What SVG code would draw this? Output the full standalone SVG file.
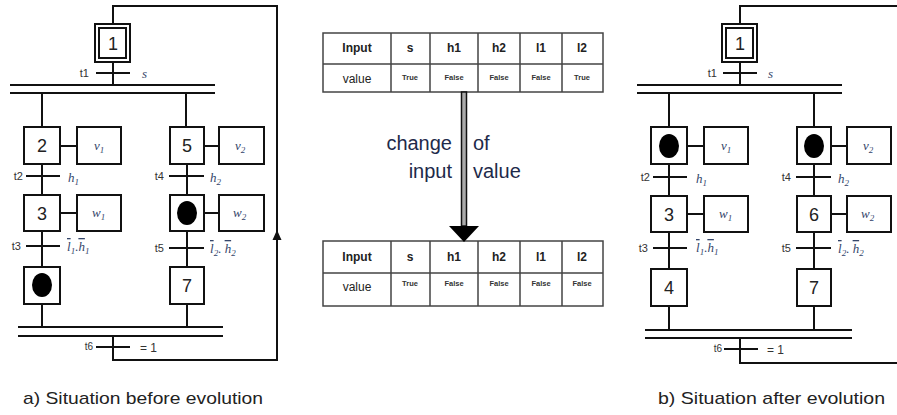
<svg xmlns="http://www.w3.org/2000/svg" width="897" height="415" viewBox="0 0 897 415">
<style>
.ln{stroke:#111;stroke-width:2;fill:none}
.box{stroke:#111;stroke-width:2;fill:#fff}
.bar{stroke:#111;stroke-width:2}
.num{font-family:"Liberation Sans",Arial,sans-serif;font-size:18px;fill:#222;text-anchor:middle}
.tl{font-family:"Liberation Sans",Arial,sans-serif;font-size:11px;fill:#333;text-anchor:end}
.m{font-family:"Liberation Serif","Times New Roman",serif;font-style:italic;font-size:13px;fill:#34456a}
.sub{font-size:9px}
.ov{text-decoration:overline}
.eq{font-family:"Liberation Sans",Arial,sans-serif;font-size:12px;fill:#333}
.tok{fill:#000}
.tb{stroke:#444;stroke-width:1.5;fill:none}
.th{font-family:"Liberation Sans",Arial,sans-serif;font-size:12px;font-weight:bold;fill:#222;text-anchor:middle}
.tv{font-family:"Liberation Sans",Arial,sans-serif;font-size:12px;fill:#222;text-anchor:middle}
.tf{font-family:"Liberation Sans",Arial,sans-serif;font-size:7.5px;font-weight:bold;fill:#333;text-anchor:middle}
.ch{font-family:"Liberation Sans",Arial,sans-serif;font-size:20px;fill:#1e2a4a}
.cap{font-family:"Liberation Sans",Arial,sans-serif;font-size:17px;fill:#222}
</style>

<!-- LEFT diagram -->
<g id="connectors-a">
<path class="ln" d="M113,24 V6 H277 V360 H113 V336"/>
<polygon points="277,230 272.5,240 281.5,240" fill="#111"/>
<path class="ln" d="M113,62 V85"/>
<path class="bar" d="M96,73 H130"/>
<path class="bar" d="M10,85 H215 M10,93 H215"/>
<path class="ln" d="M42,93 V127 M186,93 V127"/>
<path class="ln" d="M60,146 H77 M42,164 V195 M60,213 H77 M42,231 V267 M42,304 V327"/>
<path class="bar" d="M26,176 H60 M26,246 H60"/>
<path class="ln" d="M204,146 H219 M187,164 V195 M204,213 H219 M187,231 V267 M187,304 V327"/>
<path class="bar" d="M169,176 H204 M169,248 H204"/>
<path class="bar" d="M18,327 H223 M18,336 H223"/>
<path class="bar" d="M96,347 H130"/>
</g>
<g id="a-step1">
<rect x="95" y="24" width="35" height="38" class="box" stroke-width="2.5"/>
<rect x="99" y="28" width="27" height="30" class="box"/>
<text x="113" y="50" class="num">1</text>
</g>
<g id="a-t1"><text x="89" y="77" class="tl">t1</text><text x="142" y="78" class="m">s</text></g>
<g id="a-step2"><rect x="24" y="127" width="36" height="37" class="box"/><text x="42" y="152" class="num">2</text></g>
<g id="a-act-v1"><rect x="77" y="127" width="44" height="37" class="box"/><text x="94" y="150" class="m">v<tspan class="sub" dy="3">1</tspan></text></g>
<g id="a-t2"><text x="23" y="180" class="tl">t2</text><text x="68" y="182" class="m">h<tspan class="sub" dy="3">1</tspan></text></g>
<g id="a-step3"><rect x="24" y="195" width="36" height="36" class="box"/><text x="42" y="220" class="num">3</text></g>
<g id="a-act-w1"><rect x="77" y="195" width="44" height="36" class="box"/><text x="92" y="217" class="m">w<tspan class="sub" dy="3">1</tspan></text></g>
<g id="a-t3"><text x="21" y="250" class="tl">t3</text><text x="67" y="251" class="m"><tspan class="ov">l</tspan><tspan class="sub" dy="3">1</tspan><tspan dy="-3">.</tspan><tspan class="ov">h</tspan><tspan class="sub" dy="3">1</tspan></text></g>
<g id="a-step4"><rect x="24" y="267" width="36" height="37" class="box"/><ellipse cx="42" cy="285" rx="10" ry="12" class="tok"/></g>
<g id="a-step5"><rect x="170" y="127" width="34" height="37" class="box"/><text x="187" y="152" class="num">5</text></g>
<g id="a-act-v2"><rect x="219" y="127" width="45" height="37" class="box"/><text x="235" y="150" class="m">v<tspan class="sub" dy="3">2</tspan></text></g>
<g id="a-t4"><text x="164" y="180" class="tl">t4</text><text x="210" y="182" class="m">h<tspan class="sub" dy="3">2</tspan></text></g>
<g id="a-step6"><rect x="170" y="195" width="34" height="36" class="box"/><ellipse cx="187" cy="213" rx="10" ry="12" class="tok"/></g>
<g id="a-act-w2"><rect x="219" y="195" width="45" height="36" class="box"/><text x="233" y="217" class="m">w<tspan class="sub" dy="3">2</tspan></text></g>
<g id="a-t5"><text x="164" y="252" class="tl">t5</text><text x="210" y="253" class="m"><tspan class="ov">l</tspan><tspan class="sub" dy="3">2</tspan><tspan dy="-3">. </tspan><tspan class="ov">h</tspan><tspan class="sub" dy="3">2</tspan></text></g>
<g id="a-step7"><rect x="170" y="267" width="34" height="37" class="box"/><text x="187" y="292" class="num">7</text></g>
<g id="a-t6"><text x="93" y="350" class="tl" style="font-size:10px">t6</text><text x="140" y="352" class="eq">= 1</text></g>
<text x="23" y="404" class="cap" textLength="240" lengthAdjust="spacingAndGlyphs">a) Situation before evolution</text>

<!-- Tables -->
<g id="table-before">
<rect x="323" y="33" width="280" height="59" class="tb"/>
<path class="tb" d="M323,64 H603 M391,33 V92 M430,33 V92 M478,33 V92 M520,33 V92 M562,33 V92"/>
<text x="357" y="52" class="th">Input</text><text x="410" y="52" class="th">s</text><text x="454" y="52" class="th">h1</text><text x="499" y="52" class="th">h2</text><text x="541" y="52" class="th">l1</text><text x="582" y="52" class="th">l2</text>
<text x="357" y="83" class="tv">value</text><text x="410" y="80" class="tf">True</text><text x="454" y="80" class="tf">False</text><text x="499" y="80" class="tf">False</text><text x="541" y="80" class="tf">False</text><text x="582" y="80" class="tf">True</text>
</g>
<g id="table-after">
<rect x="323" y="241" width="280" height="65" class="tb"/>
<path class="tb" d="M323,273 H603 M391,241 V306 M430,241 V306 M478,241 V306 M520,241 V306 M562,241 V306"/>
<text x="357" y="261" class="th">Input</text><text x="410" y="261" class="th">s</text><text x="454" y="261" class="th">h1</text><text x="499" y="261" class="th">h2</text><text x="541" y="261" class="th">l1</text><text x="582" y="261" class="th">l2</text>
<text x="357" y="291" class="tv">value</text><text x="410" y="286" class="tf">True</text><text x="454" y="286" class="tf">False</text><text x="499" y="286" class="tf">False</text><text x="541" y="286" class="tf">False</text><text x="582" y="286" class="tf">False</text>
</g>
<g id="change-arrow">
<rect x="461.5" y="92" width="5" height="134" fill="#aaa" stroke="#111" stroke-width="1.5"/>
<polygon points="449,226 479,226 464,242" fill="#000"/>
<text x="452" y="150" class="ch" text-anchor="end">change</text>
<text x="452" y="178" class="ch" text-anchor="end">input</text>
<text x="473" y="150" class="ch">of</text>
<text x="473" y="178" class="ch">value</text>
</g>

<!-- RIGHT diagram -->
<g id="connectors-b">
<path class="ln" d="M740,24 V6 H898"/>
<path class="ln" d="M740,338 V363 H898"/>
<path class="ln" d="M740,62 V85"/>
<path class="bar" d="M723,73 H757"/>
<path class="bar" d="M637,85 H842 M637,93 H842"/>
<path class="ln" d="M669,93 V127 M814,93 V127"/>
<path class="ln" d="M687,146 H704 M669,164 V196 M687,214 H704 M669,232 V269 M669,306 V330"/>
<path class="bar" d="M653,177 H687 M653,248 H687"/>
<path class="ln" d="M831,146 H847 M814,164 V196 M831,214 H847 M814,232 V269 M814,306 V330"/>
<path class="bar" d="M796,177 H831 M796,248 H831"/>
<path class="bar" d="M645,330 H852 M645,338 H852"/>
<path class="bar" d="M724,349 H758"/>
</g>
<g id="b-step1">
<rect x="722" y="24" width="35" height="38" class="box" stroke-width="2.5"/>
<rect x="726" y="28" width="27" height="30" class="box"/>
<text x="740" y="50" class="num">1</text>
</g>
<g id="b-t1"><text x="717" y="77" class="tl">t1</text><text x="768" y="78" class="m">s</text></g>
<g id="b-step2"><rect x="651" y="127" width="36" height="37" class="box"/><ellipse cx="669" cy="146" rx="10" ry="12" class="tok"/></g>
<g id="b-act-v1"><rect x="704" y="127" width="44" height="37" class="box"/><text x="721" y="150" class="m">v<tspan class="sub" dy="3">1</tspan></text></g>
<g id="b-t2"><text x="650" y="181" class="tl">t2</text><text x="696" y="183" class="m">h<tspan class="sub" dy="3">1</tspan></text></g>
<g id="b-step3"><rect x="651" y="196" width="36" height="36" class="box"/><text x="669" y="221" class="num">3</text></g>
<g id="b-act-w1"><rect x="704" y="196" width="44" height="36" class="box"/><text x="719" y="218" class="m">w<tspan class="sub" dy="3">1</tspan></text></g>
<g id="b-t3"><text x="648" y="252" class="tl">t3</text><text x="696" y="252" class="m"><tspan class="ov">l</tspan><tspan class="sub" dy="3">1</tspan><tspan dy="-3">.</tspan><tspan class="ov">h</tspan><tspan class="sub" dy="3">1</tspan></text></g>
<g id="b-step4"><rect x="651" y="269" width="36" height="37" class="box"/><text x="669" y="294" class="num">4</text></g>
<g id="b-step5"><rect x="797" y="127" width="34" height="37" class="box"/><ellipse cx="814" cy="146" rx="10" ry="12" class="tok"/></g>
<g id="b-act-v2"><rect x="847" y="127" width="44" height="37" class="box"/><text x="863" y="150" class="m">v<tspan class="sub" dy="3">2</tspan></text></g>
<g id="b-t4"><text x="791" y="181" class="tl">t4</text><text x="838" y="183" class="m">h<tspan class="sub" dy="3">2</tspan></text></g>
<g id="b-step6"><rect x="797" y="196" width="34" height="36" class="box"/><text x="814" y="221" class="num">6</text></g>
<g id="b-act-w2"><rect x="847" y="196" width="44" height="36" class="box"/><text x="861" y="218" class="m">w<tspan class="sub" dy="3">2</tspan></text></g>
<g id="b-t5"><text x="791" y="252" class="tl">t5</text><text x="838" y="253" class="m"><tspan class="ov">l</tspan><tspan class="sub" dy="3">2</tspan><tspan dy="-3">. </tspan><tspan class="ov">h</tspan><tspan class="sub" dy="3">2</tspan></text></g>
<g id="b-step7"><rect x="797" y="269" width="34" height="37" class="box"/><text x="814" y="294" class="num">7</text></g>
<g id="b-t6"><text x="722" y="352" class="tl" style="font-size:10px">t6</text><text x="767" y="354" class="eq">= 1</text></g>
<text x="658" y="404" class="cap" textLength="227" lengthAdjust="spacingAndGlyphs">b) Situation after evolution</text>
</svg>
